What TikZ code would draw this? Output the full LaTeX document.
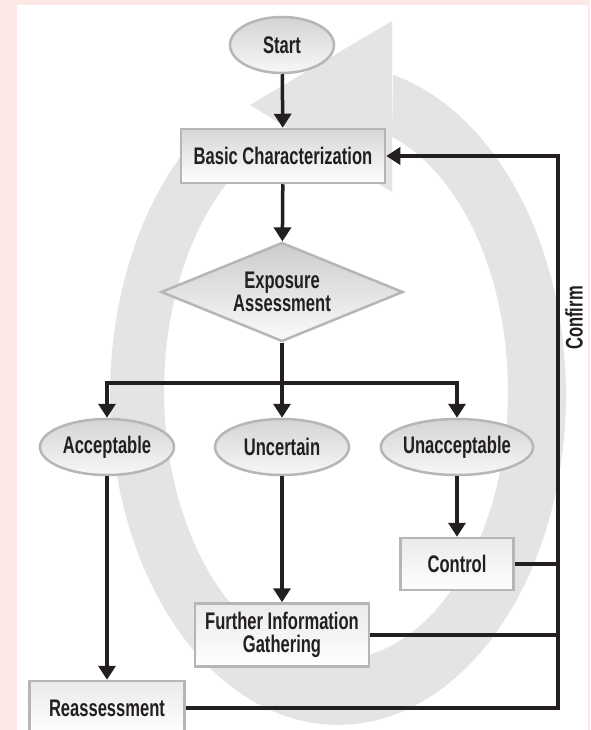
\documentclass[tikz,border=0pt]{standalone}
\usepackage{fontspec}
\newfontfamily\flowfont{Liberation Sans}[FakeStretch=0.69]
\usepackage{tikz}
\usetikzlibrary{shapes.geometric}
\usetikzlibrary{arrows.meta}
\definecolor{bgpink}{HTML}{FCE9E6}
\definecolor{ringgray}{HTML}{E4E4E5}
\definecolor{edgegray}{HTML}{B6B6B6}
\definecolor{inkblack}{HTML}{231F20}

\begin{document}
\begin{tikzpicture}[x=1pt,y=-1pt,>={Triangle[length=14pt,width=17pt]},
	every node/.style={font=\flowfont\bfseries\fontsize{24}{23.5}\selectfont,text=inkblack,align=center,inner sep=0pt},
	term/.style={ellipse,draw=edgegray,line width=2.5pt,top color=black!17,bottom color=black!3,minimum height=56pt},
	proc/.style={rectangle,draw=edgegray,line width=2.5pt,top color=black!8,bottom color=white},
	decide/.style={diamond,aspect=2.44,draw=edgegray,line width=2.5pt,top color=black!20,bottom color=black!2,minimum width=242pt,minimum height=99pt},
	flow/.style={draw=inkblack,line width=3.5pt}]
	\useasboundingbox (0,0) rectangle (590,730);
	\fill[bgpink] (0,0) rectangle (590,730);
	\fill[white] (17,5) rectangle (588,730);
	% big circular arrow behind the chart
	\fill[ringgray] plot[domain=76:-232,samples=90] ({338+228*cos(\x)},{395-330*sin(\x)})
		-- plot[domain=-232:71,samples=90] ({336+172*cos(\x)},{391-269*sin(\x)}) -- cycle;
	\fill[ringgray] (392,21) -- (250,105) -- (392,192) -- cycle;
	% chart
	\node[term,minimum width=104pt] (start) at (282,45) {Start};
	\node[proc,top color=black!16,minimum width=204pt,minimum height=54pt] (basic) at (283,156) {Basic Characterization};
	\node[decide] (expo) at (282,292) {Exposure\\Assessment};
	\node[term,minimum width=134pt] (accept) at (107,447) {Acceptable};
	\node[term,minimum width=134pt] (uncert) at (282,447) {Uncertain};
	\node[term,minimum width=136pt] (unacc) at (457,447) {Unacceptable};
	\node[proc,minimum width=113pt,minimum height=52pt] (control) at (457,564) {Control};
	\node[proc,minimum width=174pt,minimum height=63pt] (further) at (282,635) {Further Information\\Gathering};
	\node[proc,minimum width=155pt,minimum height=54pt] (reass) at (107,708) {Reassessment};
	\coordinate (split) at (282,383);
	\coordinate (bus) at (558,0);
	\node[rotate=90] (confirm) at (574,318) {Confirm};
	\draw[flow,->] (start) -- (basic);
	\draw[flow,->] (basic) -- (expo);
	\draw[flow] (expo.south) -- (split);
	\draw[flow,->] (split) -| (accept.north);
	\draw[flow,->] (split) -- (uncert.north);
	\draw[flow,->] (split) -| (unacc.north);
	\draw[flow,->] (accept) -- (reass);
	\draw[flow,->] (uncert) -- (further);
	\draw[flow,->] (unacc) -- (control);
	\draw[flow,->] (reass.east) -- (reass.east -| bus) |- (basic.east);
	\draw[flow] (control.east) -- (control.east -| bus);
	\draw[flow] (further.east) -- (further.east -| bus);
\end{tikzpicture}
\end{document}
